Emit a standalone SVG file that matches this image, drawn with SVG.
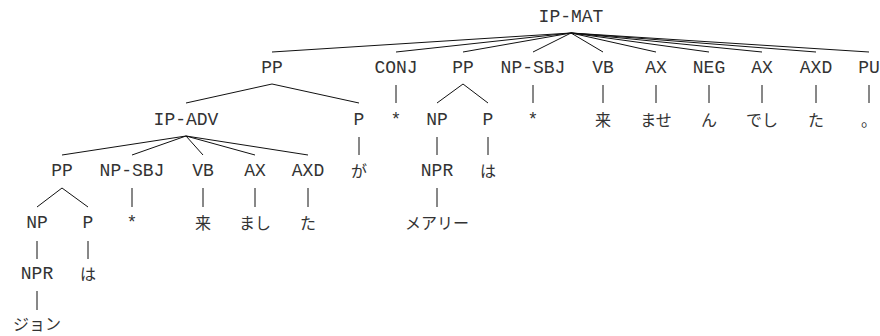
<svg xmlns="http://www.w3.org/2000/svg" width="880" height="336" viewBox="0 0 880 336">
<style>
text{font-family:"Liberation Mono","Noto Sans CJK JP",monospace;font-size:18px;fill:#333;text-anchor:middle}
.j{font-family:"Noto Sans CJK JP",sans-serif;font-size:16px}
#edges line{stroke:#111;stroke-width:1}
</style>
<rect width="880" height="336" fill="#fff"/>
<g id="edges">
<line x1="571" y1="33" x2="272" y2="52"/>
<line x1="571" y1="33" x2="396" y2="52"/>
<line x1="571" y1="33" x2="463" y2="52"/>
<line x1="571" y1="33" x2="533" y2="52"/>
<line x1="571" y1="33" x2="603" y2="52"/>
<line x1="571" y1="33" x2="656" y2="52"/>
<line x1="571" y1="33" x2="709" y2="52"/>
<line x1="571" y1="33" x2="762" y2="52"/>
<line x1="571" y1="33" x2="816" y2="52"/>
<line x1="571" y1="33" x2="869" y2="52"/>
<line x1="272" y1="84" x2="186" y2="103"/>
<line x1="272" y1="84" x2="359" y2="103"/>
<line x1="396" y1="85" x2="396" y2="103"/>
<line x1="463" y1="84" x2="437" y2="103"/>
<line x1="463" y1="84" x2="488" y2="103"/>
<line x1="533" y1="85" x2="533" y2="103"/>
<line x1="603" y1="85" x2="603" y2="103"/>
<line x1="656" y1="85" x2="656" y2="103"/>
<line x1="709" y1="85" x2="709" y2="103"/>
<line x1="762" y1="85" x2="762" y2="103"/>
<line x1="816" y1="85" x2="816" y2="103"/>
<line x1="869" y1="85" x2="869" y2="103"/>
<line x1="186" y1="136" x2="62" y2="155"/>
<line x1="186" y1="136" x2="132" y2="155"/>
<line x1="186" y1="136" x2="203" y2="155"/>
<line x1="186" y1="136" x2="255" y2="155"/>
<line x1="186" y1="136" x2="308" y2="155"/>
<line x1="359" y1="137" x2="359" y2="155"/>
<line x1="437" y1="137" x2="437" y2="155"/>
<line x1="488" y1="137" x2="488" y2="155"/>
<line x1="62" y1="188" x2="37" y2="207"/>
<line x1="62" y1="188" x2="88" y2="207"/>
<line x1="132" y1="188" x2="132" y2="207"/>
<line x1="203" y1="188" x2="203" y2="207"/>
<line x1="255" y1="188" x2="255" y2="207"/>
<line x1="308" y1="188" x2="308" y2="207"/>
<line x1="437" y1="188" x2="437" y2="207"/>
<line x1="37" y1="241" x2="37" y2="259"/>
<line x1="88" y1="241" x2="88" y2="259"/>
<line x1="37" y1="291" x2="37" y2="310"/>
</g>
<g id="n0"><text x="571" y="22">IP-MAT</text></g>
<g id="n1"><text x="272" y="73">PP</text></g>
<g id="n2"><text x="396" y="73">CONJ</text></g>
<g id="n3"><text x="463" y="73">PP</text></g>
<g id="n4"><text x="533" y="73">NP-SBJ</text></g>
<g id="n5"><text x="603" y="73">VB</text></g>
<g id="n6"><text x="656" y="73">AX</text></g>
<g id="n7"><text x="709" y="73">NEG</text></g>
<g id="n8"><text x="762" y="73">AX</text></g>
<g id="n9"><text x="816" y="73">AXD</text></g>
<g id="n10"><text x="869" y="73">PU</text></g>
<g id="n11"><text x="186" y="125">IP-ADV</text></g>
<g id="n12"><text x="359" y="125">P</text></g>
<g id="n13"><text x="396" y="125">*</text></g>
<g id="n14"><text x="437" y="125">NP</text></g>
<g id="n15"><text x="488" y="125">P</text></g>
<g id="n16"><text x="533" y="125">*</text></g>
<g id="n17"><text class="j" x="603" y="126">来</text></g>
<g id="n18"><text class="j" x="656" y="126">ませ</text></g>
<g id="n19"><text class="j" x="709" y="126">ん</text></g>
<g id="n20"><text class="j" x="762" y="126">でし</text></g>
<g id="n21"><text class="j" x="816" y="126">た</text></g>
<g id="n22"><text class="j" x="869" y="126">。</text></g>
<g id="n23"><text x="62" y="176">PP</text></g>
<g id="n24"><text x="132" y="176">NP-SBJ</text></g>
<g id="n25"><text x="203" y="176">VB</text></g>
<g id="n26"><text x="255" y="176">AX</text></g>
<g id="n27"><text x="308" y="176">AXD</text></g>
<g id="n28"><text class="j" x="359" y="177">が</text></g>
<g id="n29"><text x="437" y="176">NPR</text></g>
<g id="n30"><text class="j" x="488" y="177">は</text></g>
<g id="n31"><text x="37" y="228">NP</text></g>
<g id="n32"><text x="88" y="228">P</text></g>
<g id="n33"><text x="132" y="228">*</text></g>
<g id="n34"><text class="j" x="203" y="229">来</text></g>
<g id="n35"><text class="j" x="255" y="229">まし</text></g>
<g id="n36"><text class="j" x="308" y="229">た</text></g>
<g id="n37"><text class="j" x="437" y="229">メアリー</text></g>
<g id="n38"><text x="37" y="279">NPR</text></g>
<g id="n39"><text class="j" x="88" y="280">は</text></g>
<g id="n40"><text class="j" x="37" y="330">ジョン</text></g>
</svg>
